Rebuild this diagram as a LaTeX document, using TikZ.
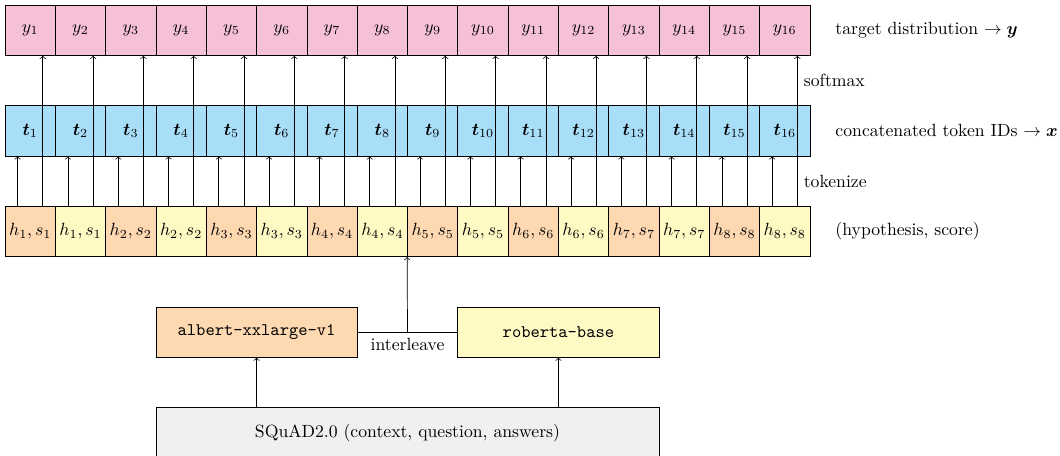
\documentclass[tikz,border=0pt]{standalone}
\usepackage{amsmath,amssymb,bm}
\usetikzlibrary{positioning}
\definecolor{targetcol}{HTML}{F5C0D8}
\definecolor{tokencol}{HTML}{A9DEF8}
\definecolor{albertcol}{HTML}{FED8B1}
\definecolor{robertacol}{HTML}{FFF9C4}
\definecolor{datacol}{HTML}{F0F0F0}
\begin{document}
\begin{tikzpicture}[
		cell/.style={draw, rectangle, minimum width=1cm, minimum height=1cm, inner sep=0pt},
		model/.style={draw, rectangle, minimum width=4cm, minimum height=1cm},
		side/.style={anchor=west, inner sep=0pt},
		every path/.style={line width=0.4pt}
		]
		\useasboundingbox (-0.1,0.6) rectangle (20.97,-8.446);
		\foreach \i [evaluate=\i as \k using {int((\i+1)/2)}, evaluate=\i as \c using {int(mod(\i,2))}] in {1,...,16} {
			\node[cell, fill=targetcol] (y\i) at (\i-0.5,0) {$y_{\i}$};
			\node[cell, fill=tokencol] (t\i) at (\i-0.5,-2) {$\bm{t}_{\i}$};
			\ifnum\c=1 \def\fc{albertcol}\else\def\fc{robertacol}\fi
			\node[cell, fill=\fc] (h\i) at (\i-0.5,-4) {$h_{\k}, s_{\k}$};
		}
		\foreach \i in {1,...,16} {
			\draw[->] ([xshift=-0.25cm]h\i.north) -- ([xshift=-0.25cm]t\i.south);
			\draw[->] ([xshift=0.25cm]h\i.north) -- ([xshift=0.25cm]y\i.south);
		}
		\node[model, fill=albertcol] (albert) at (5,-6) {\texttt{albert-xxlarge-v1}};
		\node[model, fill=robertacol] (roberta) at (11,-6) {\texttt{roberta-base}};
		\node[draw, rectangle, minimum width=10cm, minimum height=1cm, fill=datacol] (squad) at (8,-8) {SQuAD2.0 (context, question, answers)};
		\draw (albert.east) -- coordinate (mix) node[below] {interleave} (roberta.west);
		\draw[->] (mix) -- (h9.south west);
		\draw[->] (albert.south |- squad.north) -- (albert.south);
		\draw[->] (roberta.south |- squad.north) -- (roberta.south);
		\node[side] (softmax) at (15.87,-1) {softmax};
		\node[side] (tokenize) at (15.87,-3) {tokenize};
		\node[side] (ylabel) at (16.5,0) {target distribution $\rightarrow \bm{y}$};
		\node[side] (xlabel) at (16.5,-2) {concatenated token IDs $\rightarrow \bm{x}$};
		\node[side] (hlabel) at (16.5,-4) {(hypothesis, score)};
	\end{tikzpicture}
\end{document}
